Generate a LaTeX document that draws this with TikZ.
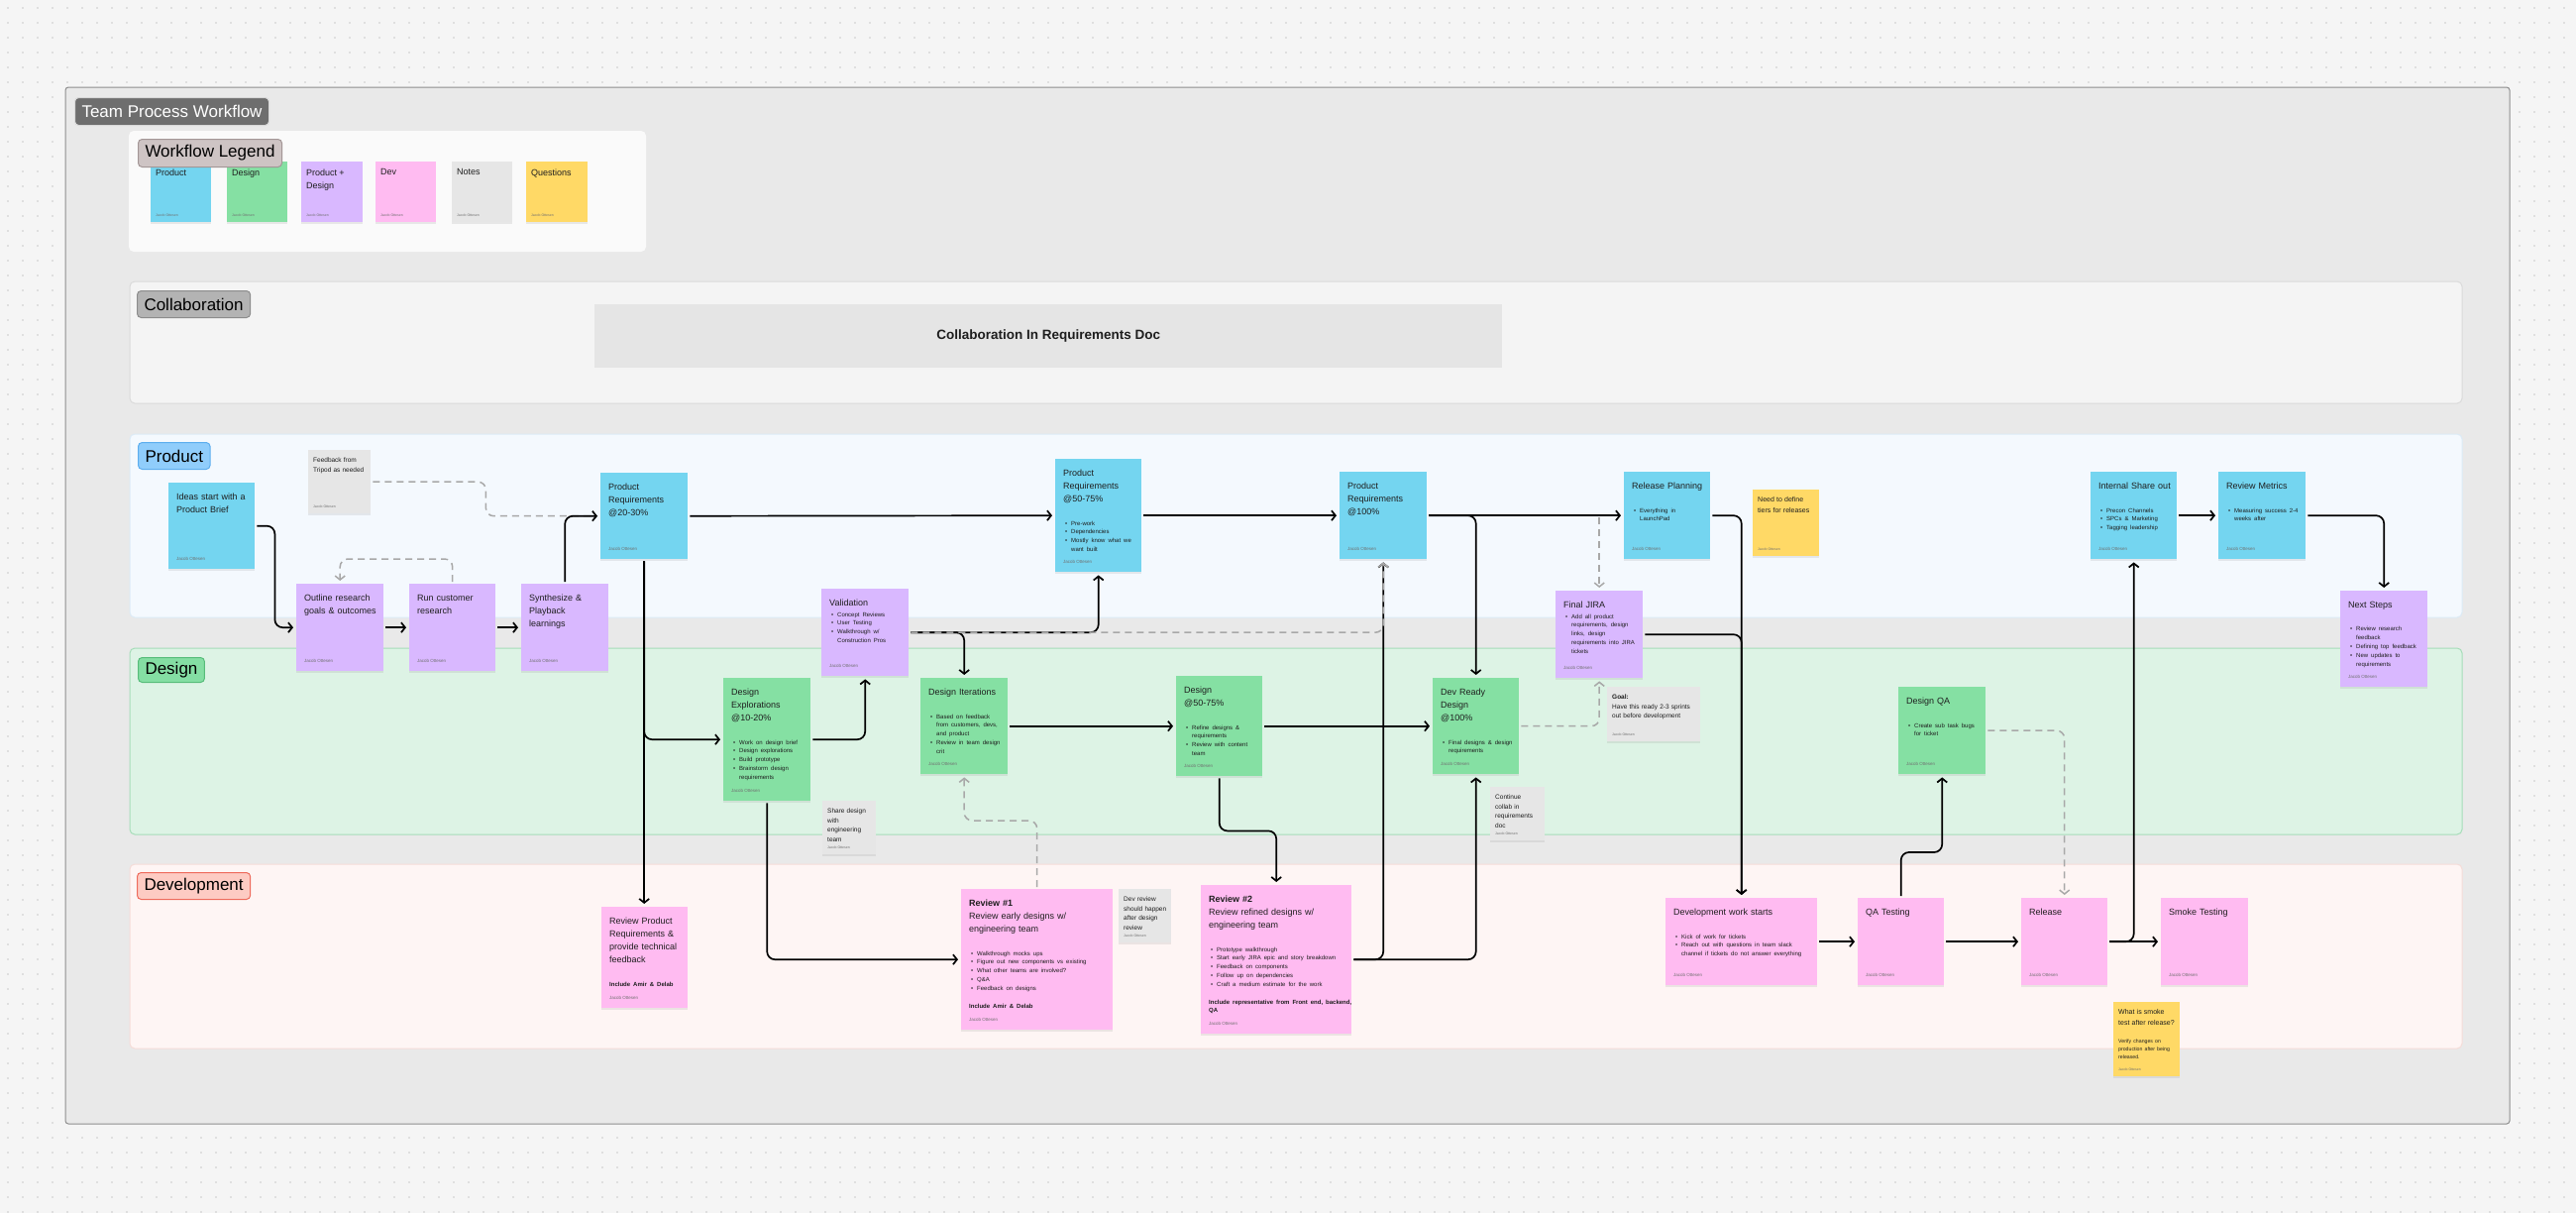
\documentclass[tikz,border=0pt]{standalone}
\usepackage{fontspec}
\setmainfont{Liberation Sans}
\usetikzlibrary{arrows.meta,shadows}
\setlength{\parindent}{0pt}
\hyphenpenalty=10000
\definecolor{pagebg}{HTML}{F5F5F5}
\definecolor{dotc}{HTML}{C9C9C9}
\definecolor{framebg}{HTML}{E9E9E9}
\definecolor{framebd}{HTML}{8E8E8E}
\definecolor{tpwfill}{HTML}{6E6E6E}
\definecolor{legbg}{HTML}{FAFAFA}
\definecolor{wlfill}{HTML}{CEC4C4}
\definecolor{wlbd}{HTML}{A39696}
\definecolor{colbg}{HTML}{F4F4F4}
\definecolor{colbd}{HTML}{DADADA}
\definecolor{collfill}{HTML}{B3B3B3}
\definecolor{collbd}{HTML}{8C8C8C}
\definecolor{colbox}{HTML}{E5E5E5}
\definecolor{prodbg}{HTML}{F4F9FE}
\definecolor{prodbd}{HTML}{DCEBF7}
\definecolor{prodlf}{HTML}{90CDFB}
\definecolor{prodlb}{HTML}{5DAEEE}
\definecolor{desbg}{HTML}{DDF3E5}
\definecolor{desbd}{HTML}{A6DDB9}
\definecolor{deslf}{HTML}{84DEA3}
\definecolor{deslb}{HTML}{57BC7A}
\definecolor{devbg}{HTML}{FEF5F4}
\definecolor{devbd}{HTML}{F5DCD8}
\definecolor{devlf}{HTML}{FDCBC3}
\definecolor{devlb}{HTML}{EE6B5C}
\definecolor{cblue}{HTML}{74D5F0}
\definecolor{cgreen}{HTML}{85E0A3}
\definecolor{cpurp}{HTML}{D9B8FF}
\definecolor{cpink}{HTML}{FFBBF1}
\definecolor{cnote}{HTML}{E6E6E6}
\definecolor{cyel}{HTML}{FFD966}
\definecolor{txt}{HTML}{1E1E1E}
\definecolor{authc}{HTML}{707070}
\definecolor{dgray}{HTML}{A8A8A8}
\newcommand\Ttl{\fontsize{9}{13}\selectfont}
\newcommand\Bul{\fontsize{6}{8.8}\selectfont}
\newcommand\Nt{\fontsize{6.5}{9.6}\selectfont}
\newcommand\Au{\fontsize{4.5}{5}\selectfont}
\newcommand\Aus{\fontsize{3.5}{4}\selectfont}
\newcommand\Lbl{\fontsize{17}{20}\selectfont}
\newcommand\nl{\hfil\break}
\newcommand\xgap{\par\vspace{15pt}}
\newcommand\xng{\par\vspace{2pt}}
\newcommand\xbi[1]{\par\hangindent=8pt\hangafter=1\noindent\makebox[8pt][l]{\hspace{2pt}\textbullet}#1}
\tikzset{
 sticky/.style={anchor=north west, inner sep=0pt, draw=none, drop shadow={shadow xshift=0pt, shadow yshift=-1.5pt, opacity=0.15}},
 stxt/.style={anchor=north west, inner sep=0pt, align=left, font=\Ttl, text=txt},
 ntxt/.style={anchor=north west, inner sep=0pt, align=left, font=\Nt, text=txt},
 auth/.style={anchor=south west, inner sep=0pt, font=\Au, text=authc},
 nauth/.style={anchor=south west, inner sep=0pt, font=\Aus, text=authc},
 tip/.style={-{Straight Barb[length=4pt,width=10pt]}},
 conn/.style={draw=black, line width=1.7pt, rounded corners=8pt, shorten >=3pt, shorten <=2pt, tip},
 dconn/.style={draw=dgray, line width=1.5pt, dash pattern=on 7pt off 5pt, rounded corners=8pt, shorten >=3pt, shorten <=2pt},
 lbl/.style={anchor=north west, rounded corners=4pt, inner xsep=7pt, inner ysep=0pt, minimum height=27pt, font=\Lbl, line width=1pt},
 lane/.style={rounded corners=5pt, line width=1pt},
}
\newcommand\stk[8]{%
 \node[sticky,fill=#6,minimum width=#4pt,minimum height=#5pt] (#1) at (#2,#3) {};
 \node[stxt,text width=#7pt] at ([xshift=8pt,yshift=-10.6pt]#1.north west) {#8\par};
 \node[auth] at ([xshift=8pt,yshift=8.5pt]#1.south west) {Jacob Ottesen};}
\newcommand\nte[8]{%
 \node[sticky,fill=#6,minimum width=#4pt,minimum height=#5pt] (#1) at (#2,#3) {};
 \node[ntxt,text width=#7pt] at ([xshift=5pt,yshift=-7.6pt]#1.north west) {#8\par};
 \node[nauth] at ([xshift=5pt,yshift=6pt]#1.south west) {Jacob Ottesen};}
\begin{document}
\begin{tikzpicture}[x=1pt,y=-1pt]
\useasboundingbox (0,0) rectangle (2600,1224);
\fill[pagebg] (0,0) rectangle (2600,1224);
% dot grid in margins
\foreach \x in {8,23,...,2588}{\foreach \y in {8,23,...,83}{\fill[dotc] (\x,\y) circle (0.9pt);}}
\foreach \x in {8,23,...,2588}{\foreach \y in {1148,1163,...,1223}{\fill[dotc] (\x,\y) circle (0.9pt);}}
\foreach \x in {8,23,38,53,2543,2558,2573,2588}{\foreach \y in {98,113,...,1133}{\fill[dotc] (\x,\y) circle (0.9pt);}}
% frame
\draw[fill=framebg, draw=framebd, line width=1pt, rounded corners=3pt] (66,88) rectangle (2533,1134);
\node[lbl, fill=tpwfill, draw=white!85!black, text=white, minimum height=28pt] (tpw) at (75,98) {Team Process Workflow};
% legend
\fill[legbg, rounded corners=5pt] (130,132) rectangle (652,254);
\nte{lprod}{152}{163}{61}{61}{cblue}{55}{\Ttl Product}
\nte{ldes}{229}{163}{61}{61}{cgreen}{55}{\Ttl Design}
\nte{lpd}{304}{163}{62}{61}{cpurp}{56}{\Ttl Product +\nl Design}
\nte{ldev}{379}{163}{61}{61}{cpink}{55}{\Ttl Dev}
\nte{lnotes}{456}{163}{61}{61}{cnote}{55}{\Ttl Notes}
\nte{lq}{531}{163}{62}{61}{cyel}{56}{\Ttl Questions}
\node[lbl, fill=wlfill, draw=wlbd, text=black, minimum height=28pt] (wleg) at (139,140) {Workflow Legend};
% lanes
\draw[lane, fill=colbg, draw=colbd] (131,284) rectangle (2485,407);
\draw[lane, fill=prodbg, draw=prodbd] (131,438) rectangle (2485,623);
\draw[lane, fill=desbg, draw=desbd] (131,654) rectangle (2485,842);
\draw[lane, fill=devbg, draw=devbd] (131,872) rectangle (2485,1058);
\node[lbl, fill=collfill, draw=collbd] (lcol) at (138,293) {Collaboration};
\node[lbl, fill=prodlf, draw=prodlb] (lprodl) at (139,446) {Product};
\node[lbl, fill=deslf, draw=deslb, minimum height=25pt] (ldesl) at (139,663) {Design};
\node[lbl, fill=devlf, draw=devlb] (ldevl) at (138,880) {Development};
\node[anchor=north west, fill=colbox, minimum width=916pt, minimum height=64pt, inner sep=0pt, font=\bfseries\fontsize{13.5}{15}\selectfont, text=txt] (cdoc) at (600,307) {Collaboration In Requirements Doc};
% product lane
\nte{tripod}{311}{454}{63}{64}{cnote}{56}{Feedback from\nl Tripod as needed}
\stk{ideas}{170}{487}{87}{87}{cblue}{77}{Ideas start with a\nl Product Brief}
\stk{pr20}{606}{477}{88}{87}{cblue}{78}{Product\nl Requirements\nl @20-30\%}
\stk{outline}{299}{589}{88}{88}{cpurp}{78}{Outline research\nl goals \& outcomes}
\stk{runres}{413}{589}{87}{88}{cpurp}{77}{Run customer\nl research}
\stk{synth}{526}{589}{88}{88}{cpurp}{78}{Synthesize \&\nl Playback\nl learnings}
\stk{valid}{829}{594}{88}{88}{cpurp}{78}{Validation\xng\Bul\xbi{Concept Reviews}\xbi{User Testing}\xbi{Walkthrough w/\nl Construction Pros}}
\stk{pr50}{1065}{463}{87}{114}{cblue}{77}{Product\nl Requirements\nl @50-75\%\xgap\Bul\xbi{Pre-work}\xbi{Dependencies}\xbi{Mostly know what we\nl want built}}
\stk{pr100}{1352}{476}{88}{88}{cblue}{78}{Product\nl Requirements\nl @100\%}
\stk{relplan}{1639}{476}{87}{88}{cblue}{77}{Release Planning\xgap\Bul\xbi{Everything in\nl LaunchPad}}
\nte{tiers}{1769}{494}{67}{67}{cyel}{60}{\fontsize{7}{10.3}\selectfont Need to define\nl tiers for releases}
\stk{jira}{1570}{596}{88}{88}{cpurp}{78}{Final JIRA\xng\Bul\xbi{Add all product\nl requirements, design\nl links, design\nl requirements into JIRA\nl tickets}}
\stk{iso}{2110}{476}{87}{88}{cblue}{77}{Internal Share out\xgap\Bul\xbi{Precon Channels}\xbi{SPCs \& Marketing}\xbi{Tagging leadership}}
\stk{metrics}{2239}{476}{88}{88}{cblue}{78}{Review Metrics\xgap\Bul\xbi{Measuring success 2-4\nl weeks after}}
\stk{next}{2362}{596}{88}{97}{cpurp}{78}{Next Steps\xgap\Bul\xbi{Review research\nl feedback}\xbi{Defining top feedback}\xbi{New updates to\nl requirements}}
% design lane
\stk{dexp}{730}{684}{88}{124}{cgreen}{78}{Design\nl Explorations\nl @10-20\%\xgap\Bul\xbi{Work on design brief}\xbi{Design explorations}\xbi{Build prototype}\xbi{Brainstorm design\nl requirements}}
\nte{share}{830}{808}{54}{54}{cnote}{47}{Share design\nl with\nl engineering\nl team}
\stk{diter}{929}{684}{88}{97}{cgreen}{78}{Design Iterations\xgap\Bul\xbi{Based on feedback\nl from customers, devs,\nl and product}\xbi{Review in team design\nl crit}}
\stk{d50}{1187}{682}{87}{101}{cgreen}{77}{Design\nl @50-75\%\xgap\Bul\xbi{Refine designs \&\nl requirements}\xbi{Review with content\nl team}}
\stk{devready}{1446}{684}{87}{97}{cgreen}{77}{Dev Ready\nl Design\nl @100\%\xgap\Bul\xbi{Final designs \& design\nl requirements}}
\nte{collab}{1504}{794}{55}{54}{cnote}{48}{Continue\nl collab in\nl requirements\nl doc}
\nte{goal}{1622}{693}{94}{55}{cnote}{87}{\textbf{Goal:}\nl Have this ready 2-3 sprints\nl out before development}
\stk{dqa}{1916}{693}{88}{88}{cgreen}{78}{Design QA\xgap\Bul\xbi{Create sub task bugs\nl for ticket}}
% development lane
\stk{rpr}{607}{915}{87}{102}{cpink}{77}{Review Product\nl Requirements \&\nl provide technical\nl feedback\xgap\Bul\textbf{Include Amir \& Delab}}
\stk{rev1}{970}{897}{153}{142}{cpink}{143}{\textbf{Review \#1}\nl Review early designs w/\nl engineering team\xgap\Bul\xbi{Walkthrough mocks ups}\xbi{Figure out new components vs existing}\xbi{What other teams are involved?}\xbi{Q\&A}\xbi{Feedback on designs}\par\vspace{9pt}\textbf{Include Amir \& Delab}}
\nte{devrev}{1129}{897}{53}{54}{cnote}{46}{Dev review\nl should happen\nl after design\nl review}
\stk{rev2}{1212}{893}{152}{150}{cpink}{150}{\textbf{Review \#2}\nl Review refined designs w/\nl engineering team\xgap\Bul\xbi{Prototype walkthrough}\xbi{Start early JIRA epic and story breakdown}\xbi{Feedback on components}\xbi{Follow up on dependencies}\xbi{Craft a medium estimate for the work}\par\vspace{9pt}\textbf{Include representative from Front end, backend,\nl QA}}
\stk{devstart}{1681}{906}{153}{88}{cpink}{143}{Development work starts\xgap\Bul\xbi{Kick of work for tickets}\xbi{Reach out with questions in team slack\nl channel if tickets do not answer everything}}
\stk{qa}{1875}{906}{87}{88}{cpink}{77}{QA Testing}
\stk{release}{2040}{906}{87}{88}{cpink}{77}{Release}
\stk{smoke}{2181}{906}{88}{88}{cpink}{78}{Smoke Testing}
\nte{smokeq}{2133}{1011}{67}{75}{cyel}{60}{\fontsize{7}{10.3}\selectfont What is smoke\nl test after release?\par\vspace{11pt}\fontsize{5.2}{7.7}\selectfont Verify changes on\nl production after being\nl released.}
% connectors
\draw[dconn] (tripod.east) -- ++(116,0) |- (pr20.west);
\draw[conn] (ideas.east) -- ++(20,0) |- (outline.west);
\draw[conn] (outline.east) -- (runres.west);
\draw[conn] (runres.east) -- (synth.west);
\draw[conn] (synth.north) |- (pr20.west);
\draw[conn] (pr20.east) -- (pr50.west);
\draw[conn] (pr50.east) -- (pr100.west);
\draw[conn] (pr20.south) -- (pr20.south |- rpr.north);
\draw[conn] (pr20.south) |- (dexp.west);
\draw[conn] (dexp.east) -| (valid.south);
\draw[conn] (dexp.south) |- (rev1.west);
\draw[conn] (valid.east) -| (pr50.south);
\draw[conn] (valid.east) -| (diter.north);
\draw[conn] (diter.east) -- (diter.east -| d50.west);
\draw[conn] (d50.east) -- (d50.east -| devready.west);
\draw[conn] (d50.south) -- ++(0,55) -| (rev2.north);
\draw[conn] (rev2.east) -| (pr100.south);
\draw[conn] (rev2.east) -| (devready.south);
\draw[conn] (pr100.east) -- (relplan.west);
\draw[conn] (pr100.east) -| (devready.north);
\draw[conn] (relplan.east) -| (devstart.north);
\draw[conn] (jira.east) -| (devstart.north);
\draw[conn] (devstart.east) -- (qa.west);
\draw[conn] (qa.east) -- (release.west);
\draw[conn] (release.east) -- (smoke.west);
\draw[conn] (release.east) -| (iso.south);
\draw[conn] (qa.north) -- ++(0,-46) -| (dqa.south);
\draw[conn] (iso.east) -- (metrics.west);
\draw[conn] (metrics.east) -| (next.north);
\draw[dconn,tip] (runres.north) -- ++(0,-25) -| (outline.north);
\draw[dconn,tip] (valid.east) -| (pr100.south);
\draw[dconn,tip] (rev1.north) -- ++(0,-69) -| (diter.south);
\draw[dconn,tip] (pr100.east -| jira.north) -- (jira.north);
\draw[dconn,tip] (devready.east) -| (jira.south);
\draw[dconn,tip] (dqa.east) -| (release.north);
\end{tikzpicture}
\end{document}
